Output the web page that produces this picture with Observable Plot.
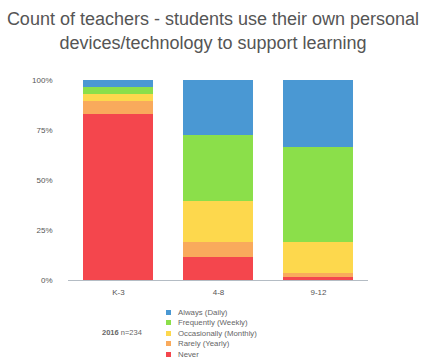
<!DOCTYPE html>
<html>
<head>
<meta charset="utf-8">
<script src="https://cdn.jsdelivr.net/npm/d3@7"></script>
<script src="https://cdn.jsdelivr.net/npm/@observablehq/plot@0.6"></script>
<style>
  body { margin: 0; background: #fff; font-family: "Liberation Sans", Arial, sans-serif; }
  #wrap { position: relative; width: 426px; height: 358px; overflow: hidden; }
  #title { position: absolute; left: 0; top: 7px; width: 426px; text-align: center; font-size: 18px; line-height: 24px; color: #555; white-space: nowrap; }
  #chart { position: absolute; left: 0; top: 60px; }
  #legend { position: absolute; left: 166px; top: 307px; font-size: 7.8px; color: #666; }
  .row { height: 10.5px; display: flex; align-items: center; }
  .sw { width: 5px; height: 5px; margin-right: 7px; }
  #note { position: absolute; left: 102px; top: 328px; font-size: 7.5px; color: #666; }
</style>
</head>
<body>
<div id="wrap">
  <div id="title">Count of teachers - students use their own personal<br>devices/technology to support learning</div>
  <div id="chart"></div>
  <div id="note"><b>2016</b> n=234</div>
  <div id="legend"></div>
</div>
<script>
const grades = ["K-3", "4-8", "9-12"];
const series = ["Never", "Rarely (Yearly)", "Occasionally (Monthly)", "Frequently (Weekly)", "Always (Daily)"];
const legendOrder = ["Always (Daily)", "Frequently (Weekly)", "Occasionally (Monthly)", "Rarely (Yearly)", "Never"];
const colors = ["#f4464d", "#f9aa5c", "#fdd84d", "#8bdf4a", "#4a98d3"];
const never        = [83, 11.5, 1.5];
const rarely       = [6.5, 7.5, 2];
const occasionally = [3.5, 20.5, 15.5];
const frequently   = [3.5, 33, 47.5];
const always       = [3.5, 27.5, 33.5];
const yTicks = [0, 25, 50, 75, 100];

const valuesBySeries = [never, rarely, occasionally, frequently, always];
const data = [];
series.forEach((s, si) => grades.forEach((g, gi) => data.push({grade: g, series: s, value: valuesBySeries[si][gi]})));

const chart = Plot.plot({
  width: 426,
  height: 240,
  marginTop: 20,
  marginBottom: 20,
  marginLeft: 68,
  marginRight: 58,
  style: { fontFamily: "Liberation Sans, Arial, sans-serif", color: "#555", background: "transparent" },
  x: { domain: grades, paddingInner: 0.3, paddingOuter: 0.15, label: null },
  y: { domain: [0, 100], label: null },
  color: { domain: series, range: colors },
  marks: [
    Plot.barY(data, { x: "grade", y: "value", fill: "series", order: series }),
    Plot.ruleY([0], { stroke: "#b4bcc4", strokeWidth: 1 }),
    Plot.axisY({ ticks: yTicks, tickFormat: d => d + "%", tickSize: 0, tickPadding: 16, fontSize: 8, label: null }),
    Plot.axisX({ tickSize: 0, tickPadding: 9, fontSize: 8, label: null })
  ]
});
document.getElementById("chart").appendChild(chart);

const legend = document.getElementById("legend");
legendOrder.forEach(s => {
  const row = document.createElement("div");
  row.className = "row";
  const sw = document.createElement("div");
  sw.className = "sw";
  sw.style.background = colors[series.indexOf(s)];
  const t = document.createElement("span");
  t.textContent = s;
  row.appendChild(sw);
  row.appendChild(t);
  legend.appendChild(row);
});
</script>
</body>
</html>
